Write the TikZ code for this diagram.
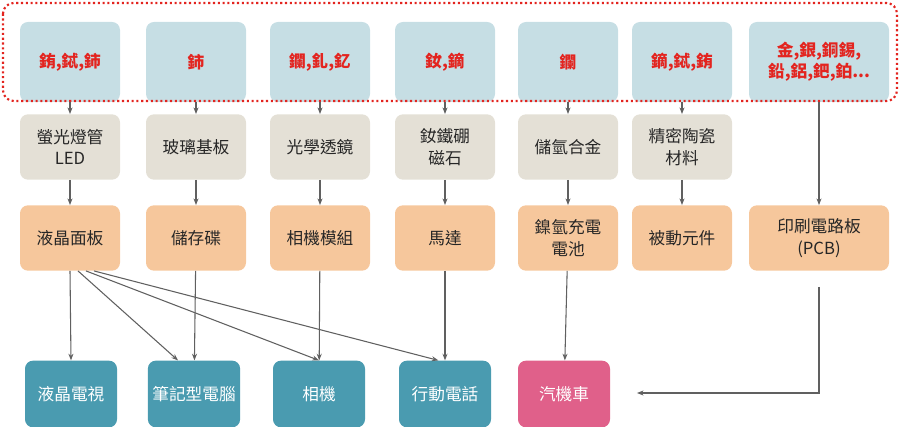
\documentclass[tikz,border=0pt]{standalone}
\usepackage{fontspec}
\setmainfont{Noto Sans CJK TC}
\usetikzlibrary{arrows.meta, positioning}
\definecolor{metalfill}{HTML}{C6DEE4}
\definecolor{metaltext}{HTML}{E3241F}
\definecolor{partfill}{HTML}{E4E0D6}
\definecolor{compfill}{HTML}{F6C79C}
\definecolor{prodfill}{HTML}{4A9BB0}
\definecolor{carfill}{HTML}{E0608A}
\definecolor{linkgray}{HTML}{606060}
\begin{document}
\begin{tikzpicture}[x=0.75pt, y=-0.75pt]
    % Styles
    \tikzset{
      box/.style={rectangle, rounded corners=6pt, minimum width=75pt, minimum height=49pt, align=center, font=\fontsize{12.5}{16}\selectfont},
      metal/.style={box, fill=metalfill, text=metaltext, minimum height=60pt, font=\bfseries\fontsize{12.5}{16}\selectfont},
      part/.style={box, fill=partfill, text=black!85},
      comp/.style={box, fill=compfill, text=black!85},
      prod/.style={box, fill=prodfill, text=white, minimum width=69pt, minimum height=50pt},
      link/.style={draw=linkgray, line width=0.8pt, -{Stealth[length=5pt]}}
    }
    \useasboundingbox (0,0) rectangle (900,427);

    % Metals
    \node[metal] (m1) at (70,62) {銪,鋱,鈰};
    \node[metal] (m2) at (196,62) {鈰};
    \node[metal] (m3) at (320,62) {鑭,釓,釔};
    \node[metal] (m4) at (445,62) {釹,鏑};
    \node[metal] (m5) at (568,62) {鑭};
    \node[metal] (m6) at (682,62) {鏑,鋱,銪};
    \node[metal, minimum width=105pt] (m7) at (819,62) {金,銀,銅錫,\\鉛,鋁,鈀,鉑...};
    \draw[metaltext, line width=1.6pt, dotted, rounded corners=8pt] (3,3) rectangle (897,101);

    % Materials
    \node[part] (p1) at (70,147) {螢光燈管\\LED};
    \node[part] (p2) at (196,147) {玻璃基板};
    \node[part] (p3) at (320,147) {光學透鏡};
    \node[part] (p4) at (445,147) {釹鐵硼\\磁石};
    \node[part] (p5) at (568,147) {儲氫合金};
    \node[part] (p6) at (682,147) {精密陶瓷\\材料};

    % Components
    \node[comp] (c1) at (70,238) {液晶面板};
    \node[comp] (c2) at (196,238) {儲存碟};
    \node[comp] (c3) at (320,238) {相機模組};
    \node[comp] (c4) at (445,238) {馬達};
    \node[comp] (c5) at (568,238) {鎳氫充電\\電池};
    \node[comp] (c6) at (682,238) {被動元件};
    \node[comp, minimum width=105pt] (c7) at (819,238) {印刷電路板\\(PCB)};

    % Products
    \node[prod] (q1) at (71,394) {液晶電視};
    \node[prod] (q2) at (194,394) {筆記型電腦};
    \node[prod] (q3) at (319,394) {相機};
    \node[prod] (q4) at (445,394) {行動電話};
    \node[prod, fill=carfill] (q5) at (564,394) {汽機車};
    \coordinate (turn) at (819,393);

    % Connections
    \foreach \i in {1,...,6} {
      \draw[link] (m\i) -- (p\i);
      \draw[link] (p\i) -- (c\i);
    }
    \draw[link] (m7) -- (c7);
    \draw[link] (c1.south) -- (q1.north);
    \draw[link] ([xshift=6pt]c1.south) -- ([xshift=-12pt]q2.north);
    \draw[link] ([xshift=12pt]c1.south) -- (q3.north);
    \draw[link] ([xshift=18pt]c1.south) -- ([xshift=-5pt]q4.north);
    \draw[link] (c2) -- (q2);
    \draw[link] (c3) -- (q3);
    \draw[link] (c4) -- (q4);
    \draw[link] (c5) -- (q5);
    \draw[link] ([yshift=-12pt]c7.south) -- (turn) -- ([xshift=20pt]q5.east |- turn);
\end{tikzpicture}
\end{document}
